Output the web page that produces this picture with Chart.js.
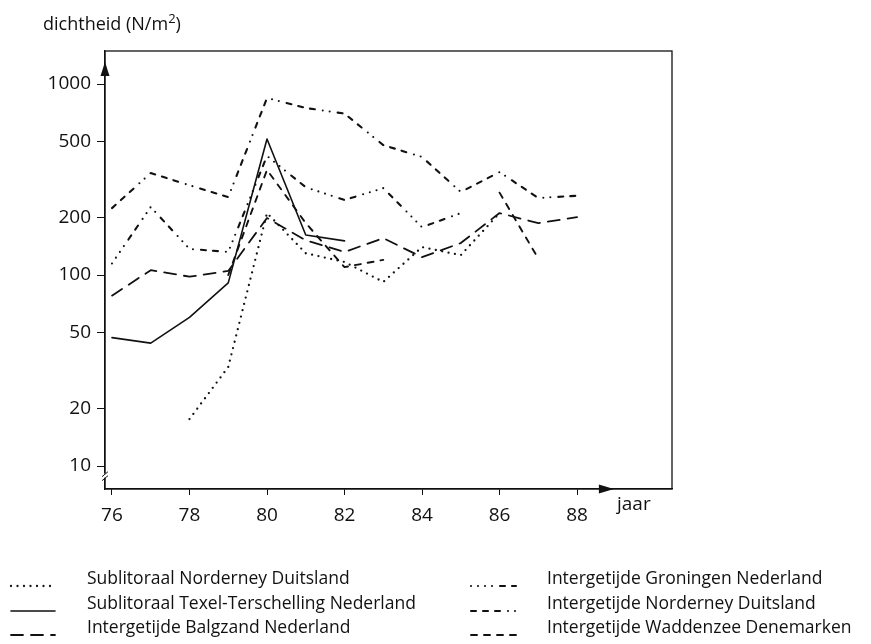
<!DOCTYPE html>
<html>
<head>
<meta charset="utf-8">
<script src="https://cdn.jsdelivr.net/npm/chart.js@4.4.1/dist/chart.umd.min.js"></script>
<style>
  html, body { margin: 0; padding: 0; background: #fff; }
  body { width: 871px; height: 644px; position: relative; overflow: hidden; font-family: 'Open Sans', sans-serif; color: #111; }
  #chart { position: absolute; left: 0; top: 0; }
  .lbl { position: absolute; font-size: 18px; white-space: nowrap; line-height: 22px; }
  .legend-item { position: absolute; font-size: 17.5px; white-space: nowrap; line-height: 22px; }
  .legend-item svg { position: absolute; overflow: visible; }
</style>
</head>
<body>
<canvas id="chart" width="871" height="644"></canvas>
<div class="lbl" style="left:43px; top:12px;">dichtheid (N/m<sup style="font-size:13px; line-height:0;">2</sup>)</div>
<div class="lbl" style="left:617px; top:492px; font-size:19px;">jaar</div>
<div id="legend"></div>

<script>
// ---- data ----
const years = [76, 77, 78, 79, 80, 81, 82, 83, 84, 85, 86, 87, 88];
const xTicks = [76, 78, 80, 82, 84, 86, 88];
const yTicks = [10, 20, 50, 100, 200, 500, 1000];

const sublNorderney  = [null, null, 17.6, 33, 211, 130, 117, 92, 140, 127, 211, null, null];
const sublTexel      = [47, 44, 60, 91, 515, 162, 151, null, null, null, null, null, null];
const interBalgzand  = [78, 106, 98, 105, 199, 152, 132, 156, 124, 147, 211, 187, 201];
const interGroningen = [115, 227, 137, 132, 420, 288, 247, 285, 178, 211, null, null, null];
const interNorderney = [224, 342, 295, 256, 845, 749, 700, 479, 415, 272, 346, 253, 260];
const interWadden    = [null, null, null, 100, 355, 187, 110, 120, null, null, 270, 122, null];

const seriesNames = [
  'Sublitoraal Norderney Duitsland',
  'Sublitoraal Texel-Terschelling Nederland',
  'Intergetijde Balgzand Nederland',
  'Intergetijde Groningen Nederland',
  'Intergetijde Norderney Duitsland',
  'Intergetijde Waddenzee Denemarken'
];
const seriesValues = [sublNorderney, sublTexel, interBalgzand, interGroningen, interNorderney, interWadden];
const seriesDash = [
  [0, 6.5],
  [],
  [12, 8],
  [0, 7, 0, 7, 0, 7, 0, 8, 5, 7, 5, 8],
  [5, 7, 5, 7, 5, 8, 0, 7, 0, 8],
  [6, 7]
];
const seriesWidth = [2.3, 1.6, 1.8, 2.1, 2.1, 1.9];

// ---- legend (html, two columns of three) ----
const legendPos = [
  { tx: 87,  ty: 566, sx: 10,  sw: 46 },
  { tx: 87,  ty: 591, sx: 10,  sw: 46 },
  { tx: 87,  ty: 615, sx: 10,  sw: 46 },
  { tx: 547, ty: 566, sx: 470, sw: 47 },
  { tx: 547, ty: 591, sx: 470, sw: 47 },
  { tx: 547, ty: 615, sx: 470, sw: 47 }
];
const legend = document.getElementById('legend');
legend.innerHTML = seriesNames.map((name, i) => {
  const p = legendPos[i];
  const dash = seriesDash[i].length ? seriesDash[i].join(' ') : 'none';
  return `<div class="legend-item" style="left:${p.tx}px; top:${p.ty}px;">
    <svg width="${p.sw}" height="4" style="left:${p.sx - p.tx}px; top:18px;">
      <line x1="1" y1="2" x2="${p.sw - 1}" y2="2" stroke="#111" stroke-width="${seriesWidth[i]}"
        stroke-linecap="round" stroke-dasharray="${dash}"/>
    </svg>${name}</div>`;
}).join('');

// ---- frame, axis arrows and axis break ----
const framePlugin = {
  id: 'frame',
  afterDraw(chart) {
    const { ctx, chartArea: a } = chart;
    const xs = chart.scales.x, ys = chart.scales.y;
    ctx.save();
    ctx.strokeStyle = '#111';
    ctx.fillStyle = '#111';
    ctx.lineWidth = 1.3;
    ctx.strokeRect(a.left, a.top, a.right - a.left, a.bottom - a.top);

    // arrow on y axis
    const ay = a.top + 11;
    ctx.beginPath();
    ctx.moveTo(a.left, ay);
    ctx.lineTo(a.left - 4.5, ay + 14);
    ctx.lineTo(a.left + 4.5, ay + 14);
    ctx.closePath();
    ctx.fill();

    // arrow on x axis
    const ax = xs.getPixelForValue(88.95);
    ctx.beginPath();
    ctx.moveTo(ax, a.bottom);
    ctx.lineTo(ax - 15, a.bottom - 4.5);
    ctx.lineTo(ax - 15, a.bottom + 4.5);
    ctx.closePath();
    ctx.fill();

    // break on y axis
    const by = ys.getPixelForValue(8.9);
    ctx.fillStyle = '#fff';
    ctx.fillRect(a.left - 2, by - 2, 4, 4);
    ctx.lineWidth = 1;
    ctx.beginPath();
    ctx.moveTo(a.left - 3, by + 1); ctx.lineTo(a.left + 3, by - 4);
    ctx.moveTo(a.left - 3, by + 5); ctx.lineTo(a.left + 3, by);
    ctx.stroke();
    ctx.restore();
  }
};

new Chart(document.getElementById('chart'), {
  type: 'line',
  data: {
    datasets: seriesNames.map((name, i) => ({
      label: name,
      data: years.map((yr, j) => ({ x: yr, y: seriesValues[i][j] })),
      borderColor: '#111',
      borderWidth: seriesWidth[i],
      borderDash: seriesDash[i],
      borderCapStyle: 'round',
      borderJoinStyle: 'round',
      pointRadius: 0,
      tension: 0,
      spanGaps: false,
      fill: false
    }))
  },
  options: {
    responsive: false,
    animation: false,
    layout: { padding: { top: 51, right: 199, left: 0, bottom: 0 } },
    plugins: { legend: { display: false }, tooltip: { enabled: false } },
    scales: {
      x: {
        type: 'linear',
        min: 75.82,
        max: 90.45,
        afterBuildTicks: s => { s.ticks = xTicks.map(v => ({ value: v })); },
        afterFit: s => { s.height = 155; },
        grid: { drawOnChartArea: false, drawTicks: true, tickLength: 6, color: '#111', lineWidth: 1 },
        border: { display: true, color: '#111', width: 1.3 },
        ticks: { color: '#111', font: { family: 'Open Sans', size: 19 }, padding: 9, maxRotation: 0, callback: v => String(v) }
      },
      y: {
        type: 'logarithmic',
        min: 7.58,
        max: 1489,
        afterBuildTicks: s => { s.ticks = yTicks.map(v => ({ value: v })); },
        afterFit: s => { s.width = 105; },
        grid: { drawOnChartArea: false, drawTicks: true, tickLength: 8, color: '#111', lineWidth: 1 },
        border: { display: true, color: '#111', width: 1.3 },
        ticks: { color: '#111', font: { family: 'Open Sans', size: 19 }, padding: 6, callback: v => String(v) }
      }
    }
  },
  plugins: [framePlugin]
});
</script>
</body>
</html>
